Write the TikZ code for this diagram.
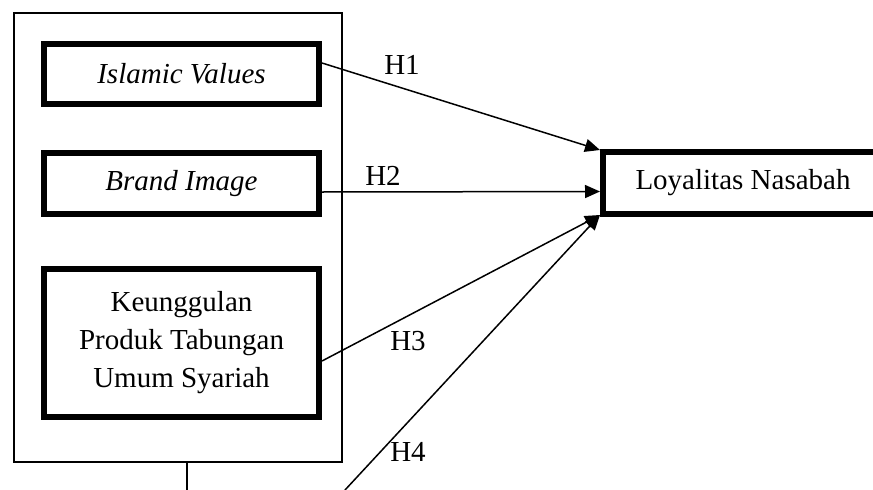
\documentclass[tikz,border=0pt]{standalone}
\usepackage{fontspec}
\setmainfont{Liberation Serif}
\usetikzlibrary{arrows.meta}
\begin{document}
\begin{tikzpicture}[x=1pt,y=-1pt,
  every node/.style={font=\fontsize{29}{38}\selectfont},
  varbox/.style={draw, line width=6pt, minimum width=275pt, inner sep=0pt, align=center},
  link/.style={line width=1.5pt, -{Triangle[length=15pt,width=13pt]}},
  hlabel/.style={inner sep=0pt}]
\useasboundingbox (0,0) rectangle (873,490);

% frame around the independent variables
\node[draw, line width=2pt, minimum width=328pt, minimum height=449pt, inner sep=0pt, anchor=north west] (frame) at (13,12) {};
\coordinate (tail) at (187,490);
\draw[line width=2pt] (frame.south -| tail) -- (tail);

% variables
\node[varbox, minimum height=60pt] (iv) at (181.5,74) {\itshape Islamic Values};
\node[varbox, minimum height=61pt] (bi) at (181.5,183.5) {\itshape Brand Image};
\node[varbox, minimum height=148pt] (ku) at (181.5,343) {Keunggulan\\Produk Tabungan\\Umum Syariah};
\node[draw, line width=6pt, minimum width=280pt, minimum height=62pt, inner sep=0pt] (ln) at (743,183) {Loyalitas Nasabah};

% hypotheses
\coordinate (h4s) at (345,490);
\draw[link] ([yshift=11pt]iv.east) -- ([yshift=-1pt]ln.north west);
\draw[link] ([yshift=-8.5pt]bi.east) -- ([yshift=-8.5pt]ln.west);
\draw[link] ([yshift=-18pt]ku.east) -- ([yshift=2pt]ln.south west);
\draw[link] (h4s) -- ([yshift=2pt]ln.south west);

\node[hlabel] (l1) at (402,65) {H1};
\node[hlabel] (l2) at (383,176) {H2};
\node[hlabel] (l3) at (408,341) {H3};
\node[hlabel] (l4) at (408,452) {H4};
\end{tikzpicture}
\end{document}
